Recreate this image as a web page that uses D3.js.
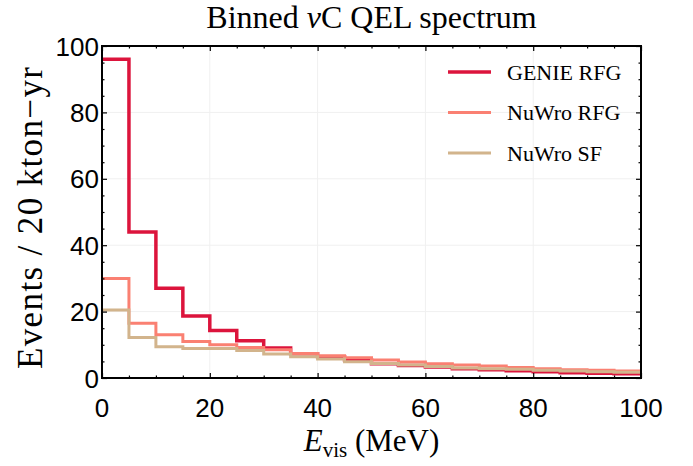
<!DOCTYPE html>
<html>
<head>
<meta charset="utf-8">
<script src="https://cdn.jsdelivr.net/npm/d3@7"></script>
<style>
  html, body { margin: 0; padding: 0; background: #fff; }
  svg { display: block; }
</style>
</head>
<body>
<div id="chart"></div>
<script>
// Bin edges (MeV), 5 MeV bins from 0 to 100
const binEdges = d3.range(0, 101, 5);

// Events / 20 kton-yr per bin
const genieRFG = [96, 44, 27, 18.7, 14.3, 11.2, 9.0, 7.3, 6.4, 5.4, 4.3, 3.8, 3.3, 2.8, 2.5, 2.2, 1.9, 1.6, 1.4, 1.3];
const nuwroRFG = [30, 16.5, 13, 11, 10, 9.2, 8.5, 7.4, 6.7, 6.1, 5.4, 4.8, 4.3, 3.9, 3.6, 3.2, 2.8, 2.5, 2.3, 2.1];
const nuwroSF  = [20.5, 12.2, 9.4, 8.9, 8.9, 8.3, 7.2, 6.4, 5.7, 4.9, 4.4, 3.9, 3.5, 3.0, 2.8, 2.6, 2.3, 2.1, 1.9, 1.7];

const seriesNames = ['GENIE RFG', 'NuWro RFG', 'NuWro SF'];
const seriesColors = ['#dc143c', '#fa8072', '#d2b48c'];
const seriesWidths = [3.5, 3, 3];

const xTicks = [0, 20, 40, 60, 80, 100];
const yTicks = [0, 20, 40, 60, 80, 100];

const width = 693, height = 466;
const margin = { top: 46, right: 52, bottom: 88, left: 102 };
const innerW = width - margin.left - margin.right;
const innerH = height - margin.top - margin.bottom;

const svg = d3.select('#chart').append('svg')
  .attr('width', width).attr('height', height);

const x = d3.scaleLinear().domain([0, 100]).range([margin.left, margin.left + innerW]);
const y = d3.scaleLinear().domain([0, 100]).range([margin.top + innerH, margin.top]);

svg.append('defs').append('clipPath').attr('id', 'plot-clip')
  .append('rect')
  .attr('x', margin.left).attr('y', margin.top)
  .attr('width', innerW).attr('height', innerH);

// Grid
const grid = svg.append('g');
xTicks.slice(1, -1).forEach(t => {
  grid.append('line')
    .attr('x1', x(t)).attr('x2', x(t))
    .attr('y1', margin.top).attr('y2', margin.top + innerH)
    .attr('stroke', '#f0f0f0').attr('stroke-width', 1);
});
yTicks.slice(1, -1).forEach(t => {
  grid.append('line')
    .attr('x1', margin.left).attr('x2', margin.left + innerW)
    .attr('y1', y(t)).attr('y2', y(t))
    .attr('stroke', '#f0f0f0').attr('stroke-width', 1);
});

// Step histograms
const line = d3.line()
  .x(d => x(d[0]))
  .y(d => y(d[1]))
  .curve(d3.curveStepAfter);

const plot = svg.append('g').attr('clip-path', 'url(#plot-clip)');
[genieRFG, nuwroRFG, nuwroSF].forEach((vals, i) => {
  const pts = vals.map((v, j) => [binEdges[j], v]);
  pts.push([binEdges[binEdges.length - 1], vals[vals.length - 1]]);
  plot.append('path')
    .datum(pts)
    .attr('d', line)
    .attr('fill', 'none')
    .attr('stroke', seriesColors[i])
    .attr('stroke-width', seriesWidths[i])
    .attr('stroke-linejoin', 'miter');
});

// Axes: inward ticks, mirrored on top and right
const minorX = d3.range(0, 101, 5).filter(v => v % 20 !== 0);
const minorY = d3.range(0, 101, 5).filter(v => v % 20 !== 0);

function inwardAxis(axisFn, scale, major, minor, transform) {
  const gMaj = svg.append('g').attr('transform', transform)
    .call(axisFn(scale).tickValues(major).tickSize(-5).tickFormat(''));
  const gMin = svg.append('g').attr('transform', transform)
    .call(axisFn(scale).tickValues(minor).tickSize(-2.5).tickFormat(''));
  [gMaj, gMin].forEach(g => {
    g.select('.domain').remove();
    g.selectAll('line').attr('stroke', '#000').attr('stroke-width', 1.2);
  });
}
inwardAxis(d3.axisBottom, x, xTicks, minorX, `translate(0,${margin.top + innerH})`);
inwardAxis(d3.axisTop, x, xTicks, minorX, `translate(0,${margin.top})`);
inwardAxis(d3.axisLeft, y, yTicks, minorY, `translate(${margin.left},0)`);
inwardAxis(d3.axisRight, y, yTicks, minorY, `translate(${margin.left + innerW},0)`);

// Frame
svg.append('rect')
  .attr('x', margin.left).attr('y', margin.top)
  .attr('width', innerW).attr('height', innerH)
  .attr('fill', 'none').attr('stroke', '#000').attr('stroke-width', 2);

// Tick labels
const tickFont = "'Liberation Sans', Arial, sans-serif";
svg.append('g').selectAll('text')
  .data(xTicks).join('text')
  .attr('x', d => x(d)).attr('y', margin.top + innerH + 39)
  .attr('text-anchor', 'middle')
  .style('font-family', tickFont).style('font-size', '26px')
  .text(d => d);
svg.append('g').selectAll('text')
  .data(yTicks).join('text')
  .attr('x', margin.left - 3).attr('y', d => y(d) + 9.5)
  .attr('text-anchor', 'end')
  .style('font-family', tickFont).style('font-size', '26px')
  .text(d => d);

// Titles
const serif = "'Liberation Serif', 'Times New Roman', serif";
const title = svg.append('text')
  .attr('x', margin.left + innerW / 2).attr('y', 28)
  .attr('text-anchor', 'middle')
  .style('font-family', serif).style('font-size', '32px');
title.append('tspan').text('Binned ');
title.append('tspan').style('font-style', 'italic').text('ν');
title.append('tspan').text('C QEL spectrum');

const xl = svg.append('text')
  .attr('x', margin.left + innerW / 2).attr('y', 451)
  .attr('text-anchor', 'middle')
  .style('font-family', serif).style('font-size', '31px');
xl.append('tspan').style('font-style', 'italic').text('E');
xl.append('tspan').attr('dy', 6).style('font-size', '21px').text('vis');
xl.append('tspan').attr('dy', -6).text(' (MeV)');

svg.append('text')
  .attr('transform', `translate(42,218) rotate(-90)`)
  .attr('text-anchor', 'middle')
  .attr('textLength', 302).attr('lengthAdjust', 'spacing')
  .style('font-family', serif).style('font-size', '35px')
  .text('Events / 20 kton\u2212yr');

// Legend
const legend = svg.append('g').attr('transform', 'translate(448,72)');
seriesNames.forEach((name, i) => {
  const row = legend.append('g').attr('transform', `translate(0,${i * 40.5})`);
  row.append('line')
    .attr('x1', 0).attr('x2', 43).attr('y1', 0).attr('y2', 0)
    .attr('stroke', seriesColors[i]).attr('stroke-width', seriesWidths[i]);
  row.append('text')
    .attr('x', 59).attr('y', 7.5)
    .style('font-family', serif).style('font-size', '22px')
    .text(name);
});
</script>
</body>
</html>
